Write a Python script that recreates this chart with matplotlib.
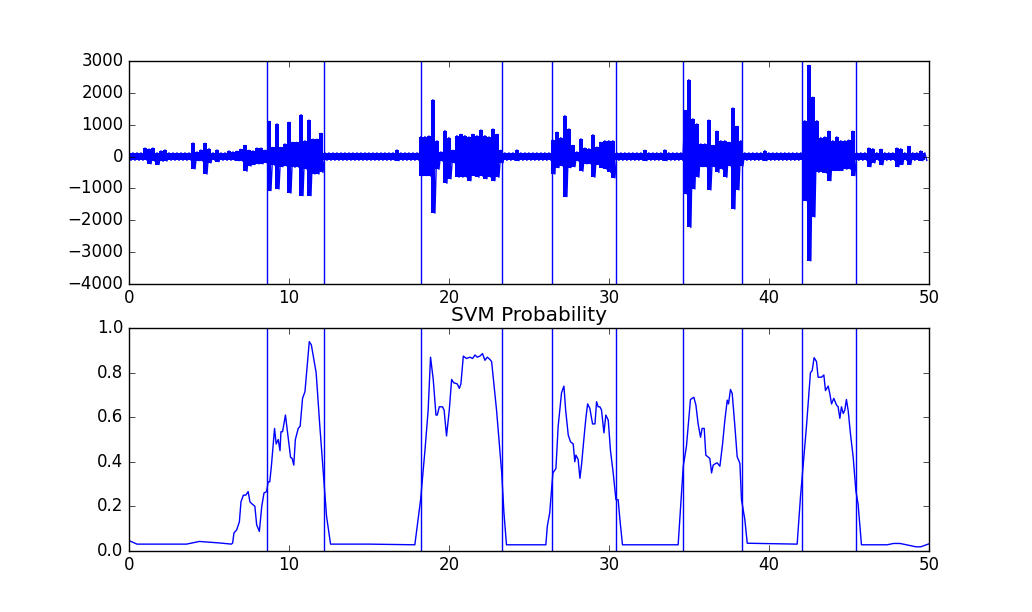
import matplotlib
matplotlib.use('Agg')
import matplotlib.pyplot as plt
import numpy as np

plt.style.use('classic')

# detected event boundaries [s]
bounds = [8.64, 12.21, 18.23, 23.33, 26.46, 30.46, 34.65, 38.33, 42.08, 45.46]

# raw signal envelope, 4 values per second (0.25 s steps)
sig_upper = [
    120, 120, 120, 120,   270, 240, 270, 120,   180, 210, 120, 120,   120, 120, 120, 120,
    430, 150, 210, 420,   250, 120, 210, 120,   120, 180, 150, 170,   230, 350, 200, 180,
    270, 270, 200, 1110,  290, 1030, 290, 400,  1080, 450, 450, 1320, 500, 1150, 550, 550,
    730, 120, 120, 120,   120, 120, 120, 120,   120, 120, 120, 120,   120, 120, 120, 120,
    120, 120, 120, 210,   120, 120, 120, 120,   120, 630, 630, 650,   1790, 500, 150, 820,
    600, 200, 660, 700,   660, 620, 700, 660,   840, 660, 620, 870,   700, 200, 120, 120,
    120, 210, 120, 120,   120, 120, 120, 120,   120, 120, 520, 770,   600, 1290, 870, 350,
    150, 560, 270, 250,   690, 300, 450, 500,   500, 500, 120, 120,   120, 120, 120, 120,
    120, 200, 120, 120,   120, 120, 210, 120,   120, 120, 120, 1450,  2420, 1190, 1030, 400,
    400, 1150, 350, 800,  500, 500, 450, 1530,  950, 500, 120, 120,   120, 120, 120, 190,
    120, 120, 120, 120,   120, 120, 120, 120,   120, 1130, 2870, 1870, 1130, 600, 620, 800,
    500, 620, 500, 500,   520, 800, 120, 120,   120, 270, 250, 120,   230, 120, 120, 120,
    270, 250, 120, 320,   120, 120, 180, 120,
]
sig_lower = [
    -120, -120, -120, -120,   -120, -230, -150, -250,   -150, -140, -120, -120,   -120, -120, -120, -120,
    -390, -130, -150, -550,   -200, -120, -160, -120,   -120, -120, -120, -130,   -150, -460, -300, -250,
    -230, -230, -200, -1070,  -280, -1020, -320, -300,  -1150, -340, -340, -1230, -400, -1230, -550, -550,
    -500, -120, -120, -120,   -120, -120, -120, -120,   -120, -120, -120, -120,   -120, -120, -120, -120,
    -120, -120, -120, -130,   -120, -120, -120, -120,   -120, -600, -600, -620,   -1780, -400, -150, -840,
    -700, -200, -650, -650,   -650, -760, -600, -650,   -620, -700, -650, -760,   -650, -200, -120, -120,
    -120, -130, -120, -120,   -120, -120, -120, -120,   -120, -120, -550, -350,   -300, -1260, -350, -320,
    -150, -460, -230, -230,   -650, -250, -350, -400,   -500, -670, -120, -120,   -120, -120, -120, -120,
    -120, -130, -120, -120,   -120, -120, -130, -120,   -120, -120, -120, -1180,  -2230, -1020, -650, -320,
    -320, -1050, -320, -500,  -400, -650, -300, -1650,  -1050, -300, -120, -120,  -120, -120, -120, -130,
    -120, -120, -120, -120,   -120, -120, -120, -120,   -120, -1390, -3280, -1900, -500, -500, -520, -760,
    -440, -440, -440, -400,   -400, -600, -120, -120,   -120, -320, -200, -120,   -260, -120, -120, -120,
    -320, -250, -120, -250,   -120, -120, -130, -120,
]

# SVM probability curve (time [s], probability)
svm_t = [0.0, 0.5, 1.5, 3.6, 4.4, 5.7, 6.4, 6.48, 6.56, 6.73, 6.9, 7.0, 7.15, 7.3, 7.45, 7.56,
         7.7, 7.87, 7.98, 8.15, 8.3, 8.44, 8.6, 8.7, 8.8, 8.9, 9.1, 9.2, 9.33, 9.44, 9.5, 9.6,
         9.78, 9.95, 10.1, 10.2, 10.3, 10.4, 10.58, 10.7, 10.85, 11.0, 11.27, 11.4, 11.7, 11.93,
         12.2, 12.35, 12.6, 15.0, 17.87,
         18.23, 18.5, 18.7, 18.85, 19.02, 19.19, 19.27, 19.4, 19.6, 19.7, 19.85, 20.02, 20.17,
         20.3, 20.52, 20.65, 20.75, 20.9, 21.1, 21.31, 21.48, 21.63, 21.77, 21.94, 22.1, 22.25,
         22.4, 22.56, 22.67, 22.98, 23.3, 23.44, 23.6, 26.06,
         26.15, 26.3, 26.5, 26.69, 26.83, 27.04, 27.19, 27.3, 27.46, 27.6, 27.77, 27.87, 27.94,
         28.08, 28.19, 28.3, 28.44, 28.56, 28.67, 28.81, 28.98, 29.13, 29.23, 29.33, 29.44,
         29.54, 29.69, 29.81, 29.96, 30.1, 30.27, 30.44, 30.58, 30.69, 30.85, 34.33,
         34.65, 34.85, 35.1, 35.31, 35.44, 35.58, 35.73, 35.83, 35.96, 36.06, 36.31, 36.42,
         36.52, 36.69, 36.77, 36.94, 37.1, 37.25, 37.4, 37.48, 37.6, 37.71, 37.88, 38.02, 38.19,
         38.29, 38.5, 38.65, 41.77,
         41.98, 42.19, 42.35, 42.6, 42.71, 42.83, 42.98, 43.08, 43.29, 43.44, 43.54, 43.71,
         43.81, 43.92, 44.06, 44.23, 44.33, 44.44, 44.54, 44.65, 44.75, 44.85, 44.96, 45.1,
         45.27, 45.44, 45.58, 45.79, 47.4, 47.8, 48.2, 48.8, 49.2, 49.5, 50.0]
svm_p = [0.046, 0.03, 0.03, 0.03, 0.042, 0.035, 0.03, 0.035, 0.08, 0.094, 0.13, 0.22, 0.25, 0.25,
         0.266, 0.22, 0.21, 0.2, 0.117, 0.087, 0.2, 0.26, 0.266, 0.31, 0.31, 0.38, 0.55, 0.48,
         0.5, 0.45, 0.535, 0.535, 0.61, 0.51, 0.42, 0.415, 0.385, 0.5, 0.55, 0.56, 0.685, 0.715,
         0.94, 0.925, 0.8, 0.56, 0.3, 0.155, 0.03, 0.03, 0.027,
         0.23, 0.45, 0.63, 0.87, 0.77, 0.61, 0.61, 0.647, 0.647, 0.632, 0.516, 0.63, 0.77,
         0.755, 0.75, 0.73, 0.75, 0.875, 0.864, 0.87, 0.864, 0.88, 0.87, 0.875, 0.886, 0.856,
         0.87, 0.86, 0.85, 0.63, 0.35, 0.17, 0.027, 0.027,
         0.11, 0.17, 0.35, 0.37, 0.56, 0.71, 0.74, 0.63, 0.52, 0.49, 0.48, 0.4, 0.43,
         0.41, 0.326, 0.393, 0.505, 0.595, 0.66, 0.64, 0.57, 0.57, 0.67, 0.647, 0.647,
         0.632, 0.53, 0.61, 0.587, 0.45, 0.35, 0.23, 0.23, 0.14, 0.027, 0.027,
         0.38, 0.47, 0.68, 0.69, 0.655, 0.57, 0.51, 0.55, 0.55, 0.43, 0.415, 0.35,
         0.385, 0.393, 0.395, 0.38, 0.475, 0.587, 0.677, 0.66, 0.725, 0.707, 0.557, 0.423, 0.393,
         0.23, 0.14, 0.034, 0.03,
         0.244, 0.42, 0.557, 0.8, 0.81, 0.868, 0.85, 0.78, 0.78, 0.79, 0.72, 0.74,
         0.707, 0.66, 0.685, 0.655, 0.647, 0.595, 0.647, 0.617, 0.632, 0.68, 0.63, 0.527,
         0.423, 0.27, 0.21, 0.027, 0.027, 0.033, 0.033, 0.024, 0.018, 0.018, 0.031]

t_env = np.arange(len(sig_upper)) * 0.25
# zigzag between the two envelopes so the edges look spiky
t_sig = np.column_stack([t_env, t_env + 0.125]).ravel()
y_sig = np.column_stack([sig_upper, sig_lower]).ravel()

fig, axs = plt.subplots(2, 1, figsize=(10.32, 6.12), dpi=100)
fig.patch.set_facecolor('white')

axs[0].fill_between(t_env, sig_lower, sig_upper, step='mid', color='b', lw=0)
axs[0].plot(t_sig, y_sig, 'b-', lw=1.0)
for b in bounds:
    axs[0].axvline(b, color='b')
axs[0].set_xlim(0, 50)
axs[0].set_ylim(-4000, 3000)

axs[1].plot(svm_t, svm_p, 'b-', lw=1.0)
for b in bounds:
    axs[1].axvline(b, color='b')
axs[1].set_xlim(0, 50)
axs[1].set_ylim(0, 1.0)
axs[1].set_title('SVM Probability')

fig.savefig('out.png', dpi=100, facecolor='white')
